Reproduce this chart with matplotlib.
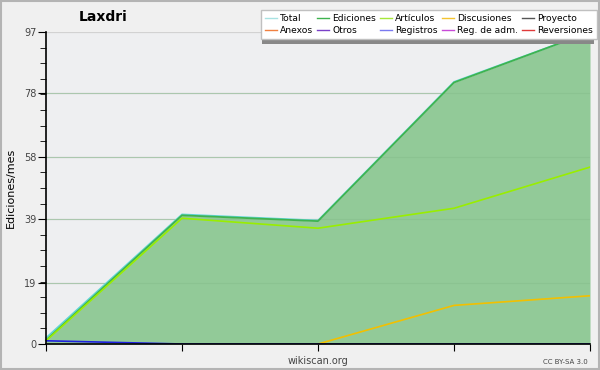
import matplotlib.pyplot as plt
from matplotlib.lines import Line2D
from matplotlib.ticker import FixedLocator, MultipleLocator
import numpy as np

# Données (5 mois)
mois = [0, 1, 2, 3, 4]
total = [1.9, 40.3, 38.4, 81.5, 97]
ediciones = [1.2, 40.0, 38.2, 81.3, 97]
articulos = [1.0, 39.1, 36.0, 42.2, 55]
discusiones = [None, None, 0, 12, 15]
registros = [1.0, 0, 0, 0, 0]

y_ticks = [0, 19, 39, 58, 78, 97]
y_max = 97

series_legende = ["Total", "Ediciones", "Artículos", "Discusiones", "Proyecto",
                  "Anexos", "Otros", "Registros", "Reg. de adm.", "Reversiones"]
couleurs = {"Total": "#a8e2e2", "Ediciones": "#3fb34f", "Artículos": "#a6e83a",
            "Discusiones": "#f4c430", "Proyecto": "#555555", "Anexos": "#f08040",
            "Otros": "#7a40c8", "Registros": "#7a7af0", "Reg. de adm.": "#c84ad8",
            "Reversiones": "#e03a3a"}

fig = plt.figure(figsize=(6, 3.7), dpi=100, facecolor="#f0f0f0")
ax = fig.add_axes([46/600, 26/370, 544/600, 312/370])
ax.set_facecolor("#eeeff1")

# bordure de la figure
fig.patches.append(plt.Rectangle((0.002, 0.003), 0.996, 0.994, transform=fig.transFigure,
                                 fill=False, edgecolor="#b4b4b4", linewidth=1.5))

for t in y_ticks[1:]:
    ax.axhline(t, color="#d2d2d2", linewidth=0.9, zorder=1)

x = np.array(mois)
ax.fill_between(x, 0, ediciones, color="#92ca98", zorder=2, linewidth=0)
for t in y_ticks[1:-1]:
    ax.axhline(t, color="#86bd8c", linewidth=0.8, zorder=2.1, alpha=0.5)

def to_arr(v):
    return np.array([np.nan if a is None else a for a in v], dtype=float)

ax.plot(x, total, color="#5fd6d6", linewidth=1.2, zorder=3, clip_on=False)
ax.plot(x, ediciones, color=couleurs["Ediciones"], linewidth=1.3, zorder=4, clip_on=False)
ax.plot(x, articulos, color="#99ee00", linewidth=1.2, zorder=5)
ax.plot(x, to_arr(discusiones), color="#f2c000", linewidth=1.2, zorder=5)
ax.plot(x, registros, color="#2020e0", linewidth=1.2, zorder=5)

ax.set_xlim(0, 4)
ax.set_ylim(0, y_max)
ax.xaxis.set_major_locator(FixedLocator(mois))
ax.set_xticklabels([])
ax.yaxis.set_major_locator(FixedLocator(y_ticks))
ax.yaxis.set_minor_locator(MultipleLocator(y_max / 20))
ax.tick_params(axis="y", which="major", length=6, labelsize=7, labelcolor="#444444", pad=1)
ax.tick_params(axis="y", which="minor", length=4)
ax.tick_params(axis="x", which="major", length=5, direction="out")
for s in ["top", "right"]:
    ax.spines[s].set_visible(False)
ax.spines["left"].set_linewidth(1.2)
ax.spines["bottom"].set_linewidth(1.2)
ax.spines["left"].set_zorder(6)
ax.spines["bottom"].set_zorder(6)

ax.set_ylabel("Ediciones/mes", fontsize=8, labelpad=6)
fig.text(103/600, 1 - 17/370, "Laxdri", fontsize=10, fontweight="bold", ha="center", va="center")
fig.text(318/600, 1 - 361/370, "wikiscan.org", fontsize=7, color="#444444", ha="center", va="center")
fig.text(565/600, 1 - 362/370, "CC BY-SA 3.0", fontsize=5, color="#444444", ha="center", va="center")

# ombre de la légende
fig.patches.append(plt.Rectangle((262/600, 1 - 44/370), 332/600, 31/370, transform=fig.transFigure,
                                 facecolor="#888888", edgecolor="none", zorder=9))

# légende (remplissage par colonne)
ordre = []
for c in range(5):
    ordre.append(series_legende[c])
    ordre.append(series_legende[c + 5])
poignees = [Line2D([], [], color=couleurs[n], linewidth=1) for n in ordre]
leg = fig.legend(poignees, ordre, ncol=5, loc="upper right", bbox_to_anchor=(597/600, 1 - 10/370),
                 fontsize=6.6, frameon=True, fancybox=False, shadow=False,
                 handlelength=1.3, handletextpad=0.3, columnspacing=0.5,
                 labelspacing=0.3, borderpad=0.45, borderaxespad=0)
leg.get_frame().set_edgecolor("#c0c0c0")
leg.get_frame().set_facecolor("white")
leg.get_frame().set_alpha(1)
leg.set_zorder(10)

fig.savefig("out.png", dpi=100, facecolor=fig.get_facecolor())
